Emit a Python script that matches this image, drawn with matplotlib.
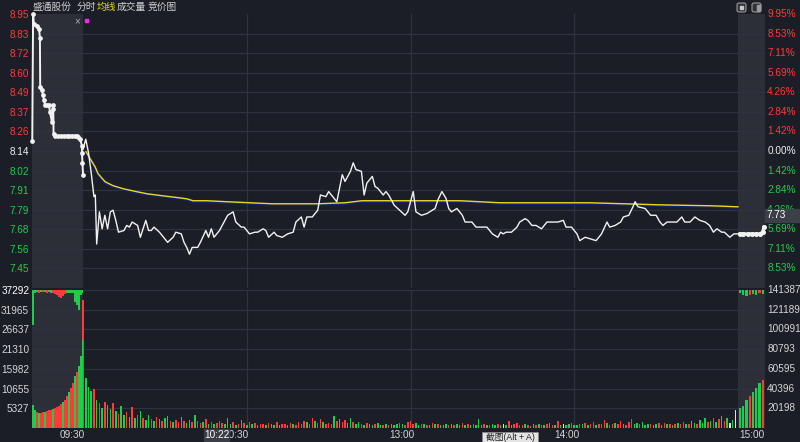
import matplotlib
matplotlib.use('Agg')
import matplotlib.pyplot as plt
import matplotlib.transforms as mtransforms
from matplotlib.patches import Rectangle, FancyBboxPatch

plt.rcParams['font.family'] = ['Liberation Sans', 'Noto Sans CJK SC', 'DejaVu Sans']

# 昨收
prev_close = 8.14

# 集合竞价 09:15-09:30 (分钟, 价格), 负值 = 开盘前
auction_pts = [(-18.6, 8.20), (-18.3, 8.95), (-18.0, 8.89), (-17.0, 8.88), (-16.1, 8.86),
               (-15.8, 8.81), (-15.7, 8.52), (-15.0, 8.50), (-14.7, 8.47), (-14.3, 8.44),
               (-13.9, 8.41), (-13.2, 8.41), (-12.5, 8.41), (-12.1, 8.37), (-11.4, 8.31),
               (-11.0, 8.41), (-10.9, 8.39), (-10.8, 8.24), (-10.3, 8.23), (-9.0, 8.23),
               (-8.0, 8.23), (-7.0, 8.23), (-6.0, 8.23), (-5.0, 8.23), (-4.0, 8.23),
               (-3.0, 8.23), (-2.2, 8.23), (-1.8, 8.22), (-1.1, 8.21), (-0.4, 8.17),
               (-0.4, 8.13), (-0.2, 8.07), (0.0, 8.00)]

# 分时 (分钟, 价格)
trade_pts = [(0, 8.15), (1, 8.21), (2, 8.13), (3, 8.01), (4, 7.87), (4.5, 7.88), (5, 7.59),
             (6, 7.78), (7, 7.68), (8, 7.76), (9, 7.68), (10, 7.78), (11, 7.79), (12, 7.73),
             (13, 7.66), (15, 7.67), (16, 7.70), (17, 7.69), (18, 7.72), (20, 7.70), (21, 7.63),
             (23, 7.73), (24, 7.67), (25, 7.67), (26, 7.69), (28, 7.66), (31, 7.60), (33, 7.63),
             (34, 7.66), (36, 7.65), (37, 7.60), (38, 7.57), (39, 7.53), (40, 7.57), (42, 7.57),
             (43, 7.60), (45, 7.67), (46, 7.63), (47, 7.68), (48, 7.63), (50, 7.67), (53, 7.76),
             (55, 7.78), (56, 7.72), (58, 7.69), (59, 7.69), (61, 7.65), (63, 7.66), (64, 7.66),
             (66, 7.68), (67, 7.67), (68, 7.63), (70, 7.66), (71, 7.64), (73, 7.63), (75, 7.65),
             (77, 7.66), (78, 7.72), (80, 7.75), (81, 7.69), (82, 7.75), (84, 7.75), (86, 7.79),
             (87, 7.88), (89, 7.87), (90, 7.90), (91, 7.88), (93, 7.84), (95, 8.00), (96, 7.96),
             (98, 8.02), (99, 8.07), (100, 8.03), (102, 8.02), (103, 7.88), (104, 7.95),
             (106, 7.99), (107, 7.93), (108, 7.92), (110, 7.88), (111, 7.90), (112, 7.88),
             (114, 7.82), (116, 7.79), (118, 7.76), (119, 7.78), (120, 7.84), (121, 7.90),
             (122, 7.78), (124, 7.76), (126, 7.77), (128, 7.79), (129, 7.80), (130, 7.85),
             (131.5, 7.90), (133, 7.86), (134, 7.80), (135, 7.78), (137, 7.80), (139, 7.76),
             (140, 7.72), (142.5, 7.72), (144, 7.69), (147, 7.69), (148, 7.69), (150, 7.65),
             (152, 7.63), (153, 7.66), (154, 7.65), (155, 7.66), (157, 7.66), (159, 7.69),
             (160, 7.72), (162, 7.74), (163, 7.73), (164.5, 7.70), (166, 7.70), (168, 7.68),
             (170, 7.72), (171, 7.72), (173, 7.72), (174, 7.72), (176, 7.73), (177, 7.69),
             (179, 7.69), (181, 7.65), (182, 7.61), (184, 7.63), (186, 7.62), (188, 7.61),
             (190, 7.65), (192, 7.72), (193, 7.69), (195, 7.70), (197, 7.72), (198, 7.75),
             (200, 7.76), (201.5, 7.81), (202.3, 7.84), (203.4, 7.81), (206, 7.80), (208, 7.76),
             (210, 7.76), (211.4, 7.72), (212.5, 7.70), (214, 7.72), (216, 7.72), (217.6, 7.72),
             (219.4, 7.75), (220.5, 7.72), (222.4, 7.72), (224.2, 7.75), (226, 7.73), (228, 7.72),
             (229.6, 7.70), (231, 7.66), (232.3, 7.68), (234, 7.66), (235, 7.66), (237, 7.63),
             (238.5, 7.65), (240, 7.65)]

# 收盘竞价
close_pts = [(240.7, 7.65), (242, 7.65), (243.5, 7.65), (245, 7.65), (246.5, 7.65),
             (248, 7.65), (249, 7.66), (249.5, 7.69)]

# 均价线
avg_pts = [(1.1, 8.131), (2.6, 8.090), (4.4, 8.042), (5.5, 8.001), (8.1, 7.953), (11, 7.930),
           (14.7, 7.912), (19.8, 7.894), (23.5, 7.882), (29.3, 7.870), (35.5, 7.858),
           (38.1, 7.852), (40.3, 7.841), (45.4, 7.841), (52.8, 7.835), (61.2, 7.829),
           (69.3, 7.823), (78.8, 7.823), (86.1, 7.823), (96, 7.829), (102.2, 7.841),
           (110.7, 7.841), (119.8, 7.841), (138.1, 7.841), (152.8, 7.829), (175.9, 7.829),
           (185.8, 7.829), (210.7, 7.817), (230.5, 7.811), (240, 7.805)]

# 成交量 (每分钟)
trade_vol = [34600, 13500, 11000, 10000, 10500, 7500, 6800, 5500, 7000, 6200,
             5200, 6800, 4500, 3800, 6000, 3500, 4200, 3000, 5800, 2600,
             3400, 4500, 2800, 2200, 3600, 2500, 1900, 3100, 2400, 1800,
             2600, 3300, 2000, 1500, 2200, 1700, 2900, 1900, 1400, 2100,
             1600, 3500, 1800, 1300, 1500, 2400, 1200, 1700, 1100, 1400,
             1900, 1300, 1000, 2600, 1200, 1500, 900, 1100, 2200, 1300,
             800, 1700, 1000, 1400, 900, 1200, 1000, 700, 1300, 1100,
             900, 1500, 800, 1000, 1200, 700, 1400, 1000, 900, 1600,
             1200, 2000, 1500, 1000, 2800, 1800, 1300, 2300, 1600, 1000,
             1400, 1200, 3200, 1900, 2500, 1500, 2200, 1300, 2800, 1700,
             1200, 1600, 1000, 900, 1300, 1100, 800, 1000, 1400, 900,
             700, 1100, 800, 1000, 900, 1200, 1300, 1000, 800, 1500,
             1800, 1100, 1400, 800, 1000, 1200, 900, 700, 1300, 1000,
             1100, 800, 900, 1200, 700, 1000, 800, 1100, 900, 1400,
             800, 1000, 700, 1200, 900, 2300, 800, 1000, 700, 900,
             1100, 800, 1000, 700, 1200, 900, 2000, 800, 1000, 1300,
             700, 900, 1100, 800, 600, 1000, 800, 1200, 900, 700,
             1000, 1300, 800, 700, 1900, 900, 1100, 800, 1000, 1300,
             900, 700, 1200, 1000, 1400, 800, 1100, 1600, 900, 1200,
             1000, 2100, 1300, 900, 1100, 1400, 1000, 1800, 1200, 900,
             1500, 2400, 1100, 1300, 1000, 1700, 900, 1200, 1000, 800,
             1100, 1300, 900, 1400, 1000, 1200, 800, 1000, 1300, 1100,
             1500, 1000, 1200, 1900, 1400, 1100, 2200, 1300, 2600, 1500,
             1900, 2800, 1600, 2400, 3200, 1800, 2600, 1400, 2100, 4900]
trade_dir = ("rgggrgrgrg" "grgrggrgrg" "rgrggrgrgr" "ggrgrrgrgg" "rgrrgrgrgr" "rrgggrgrgr"
             "grgrgrrgrg" "grgrrgrgrr" "rrgrrgrrgr" "rrgrgrrggr" "ggrgrggrgg" "rgrgggrgrr"
             "rrggrgrgrg" "rgggrgrggr" "grgrgggrgr" "ggrgwgrgrr" "rrgrggrgrg" "rgrgrgwggr"
             "ggrgrgrrgr" "rrgrrgrrgr" "rrggrgggrg" "grgrgrgrgr" "rgrggrgggr" "grgrgrgwgw")

# 竞价量
auc_vol_x = [-18.3, -17.6, -16.9, -16.1, -15.4, -14.7, -14.0, -13.2, -12.5, -11.8, -11.0,
             -10.3, -9.6, -8.8, -8.1, -7.4, -6.6, -5.9, -5.2, -4.4, -3.7, -3.0, -2.2, -1.5,
             -0.8, -0.2]
auc_vol = [6200, 4900, 4300, 4000, 4000, 4300, 4300, 4600, 4900, 4900, 5100, 5400, 5700,
           5900, 6500, 7000, 7600, 8600, 9700, 10800, 12200, 14000, 15100, 16700, 19400, 23800]
auc_dir = "ggrgrrgrrrgrrrrgrrgrrgrggg"
# 未匹配量 (自上而下)
auc_unmatched = [9400, 800, 600, 700, 600, 500, 600, 700, 600, 700, 800, 1100, 1400,
                 1900, 2200, 1600, 1100, 900, 800, 700, 900, 3200, 4100, 5400, 1300, 900]
auc_un_dir = "gggrgrgrggrrrrrrrgggggggg g"

close_vol_x = [240.7, 241.9, 243.1, 244.3, 245.5, 246.7, 247.9, 249.1]
close_vol = [5400, 5900, 7600, 8600, 9700, 10800, 12200, 13000]
close_dir = "gggrgggr"
close_unmatched = [800, 1300, 1600, 1300, 1100, 1400, 900, 1200]

price_labels = ['8.95', '8.83', '8.72', '8.60', '8.49', '8.37', '8.26', '8.14',
                '8.02', '7.91', '7.79', '7.68', '7.56', '7.45']
pct_labels = ['9.95%', '8.53%', '7.11%', '5.69%', '4.26%', '2.84%', '1.42%', '0.00%',
              '1.42%', '2.84%', '4.26%', '5.69%', '7.11%', '8.53%']
vol_left_labels = ['37292', '31965', '26637', '21310', '15982', '10655', '5327']
vol_right_labels = ['141387', '121189', '100991', '80793', '60595', '40396', '20198']
time_labels = ['09:30', '10:30', '13:00', '14:00', '15:00']
time_label_pos = [-4, 56, 117, 177.4, 245]

BG = '#1b1e26'
SHADE = '#2c2f37'
GRID = '#2e333e'
RED = '#ff3a3a'
GREEN = '#22cc4a'
TXT = '#d6d6d6'
dir_color = {'r': RED, 'g': GREEN, 'w': '#e0e0e0', ' ': GREEN}

W, H = 800, 442
def box(x0, y0, x1, y1):
    return [x0 / W, 1 - y1 / H, (x1 - x0) / W, (y1 - y0) / H]

fig = plt.figure(figsize=(8, 4.42), dpi=100)
fig.patch.set_facecolor(BG)

ax = fig.add_axes(box(32, 14, 765, 288))
axv = fig.add_axes(box(32, 290, 765, 428))

step = (8.95 - prev_close) / 7
ylo, yhi = prev_close - 7 * step, prev_close + 7 * step
price_ticks = [prev_close + (7 - i) * step for i in range(14)]
vol_top = 37292
vol_ticks = [vol_top * (7 - i) / 7 for i in range(7)]
xlo, xhi = -18.7, 249.9

for a in (ax, axv):
    a.set_facecolor(BG)
    a.set_xlim(xlo, xhi)
    for s in a.spines.values():
        s.set_visible(False)
    a.axvspan(xlo, 0, color=SHADE, zorder=0, lw=0)
    a.axvspan(240, xhi, color=SHADE, zorder=0, lw=0)
    for m in (60, 120, 180):
        a.axvline(m, color=GRID, lw=0.9, zorder=1)
    a.set_xticks([])

# 价格面板
ax.set_ylim(ylo, yhi)
for p in price_ticks[1:]:
    ax.axhline(p, color=GRID, lw=0.9, zorder=1)
ax.set_yticks(price_ticks)
ax.set_yticklabels(price_labels)
ax.tick_params(axis='y', length=0, pad=2, labelsize=7.2)
for i, lab in enumerate(ax.get_yticklabels()):
    lab.set_color(RED if i < 7 else ('#f0f0f0' if i == 7 else GREEN))

tr = mtransforms.blended_transform_factory(ax.transAxes, ax.transData)
for i, (p, lab) in enumerate(zip(price_ticks, pct_labels)):
    c = RED if i < 7 else ('#f0f0f0' if i == 7 else GREEN)
    ax.text(1.003, p, lab, transform=tr, color=c, fontsize=7.2, va='center', ha='left')

am, ap = zip(*avg_pts)
ax.plot(am, ap, color='#14206e', lw=2.0, zorder=3, solid_capstyle='round')
shift = mtransforms.offset_copy(ax.transData, fig=fig, x=0, y=0.6, units='points')
ax.plot(am, ap, color='#e8dc1a', lw=1.0, zorder=4, transform=shift)

tm, tp = zip(*trade_pts)
ax.plot(tm, tp, color='#f2f2f2', lw=1.0, zorder=5)
xm, xp = zip(*auction_pts)
ax.plot(xm, xp, color='#f2f2f2', lw=1.4, marker='o', ms=2.4, zorder=5, clip_on=False)
cm, cp = zip(*close_pts)
ax.plot(cm, cp, color='#f2f2f2', lw=2.2, marker='o', ms=2.6, zorder=5, clip_on=False)

# 成交量面板
axv.set_ylim(0, vol_top)
for v in vol_ticks:
    axv.axhline(v, color=GRID, lw=0.9, zorder=1)
axv.set_yticks(vol_ticks)
axv.set_yticklabels(vol_left_labels)
axv.tick_params(axis='y', length=0, pad=2, labelsize=7.2, labelcolor=TXT)
axv.get_yticklabels()[0].set_color('#ffffff')
trv = mtransforms.blended_transform_factory(axv.transAxes, axv.transData)
for v, lab in zip(vol_ticks, vol_right_labels):
    axv.text(1.003, v, lab, transform=trv, color=TXT, fontsize=7.2, va='center', ha='left')

axv.bar(range(len(trade_vol)), trade_vol, width=0.55,
        color=[dir_color[c] for c in trade_dir], zorder=3, lw=0)
axv.bar(auc_vol_x, auc_vol, width=0.62, color=[dir_color[c] for c in auc_dir], zorder=3, lw=0)
axv.bar(auc_vol_x, [-v for v in auc_unmatched], bottom=vol_top, width=0.62,
        color=[dir_color[c] for c in auc_un_dir[:len(auc_vol_x)]], zorder=3, lw=0)
axv.bar(close_vol_x, close_vol, width=0.8, color=[dir_color[c] for c in close_dir], zorder=3, lw=0)
axv.bar(close_vol_x, [-v for v in close_unmatched], bottom=vol_top, width=0.8,
        color=[dir_color[c] for c in "gggrggrg"], zorder=3, lw=0)

trx = mtransforms.blended_transform_factory(axv.transData, axv.transAxes)
for pos, lab in zip(time_label_pos, time_labels):
    axv.text(pos, -0.052, lab, transform=trx, color=TXT, fontsize=7.2, ha='center', va='center')

# 装饰层 (像素坐标)
deco = fig.add_axes([0, 0, 1, 1])
deco.set_xlim(0, W)
deco.set_ylim(H, 0)
deco.axis('off')
deco.patch.set_alpha(0)

deco.text(33, 7, '盛通股份', color='#d0d0d0', fontsize=7, va='center')
deco.text(77, 7, '分时', color='#d0d0d0', fontsize=7, va='center')
deco.text(97, 7, '均线', color='#e8dc1a', fontsize=7, va='center')
deco.text(117, 7, '成交量', color='#d0d0d0', fontsize=7, va='center')
deco.text(148, 7, '竞价图', color='#d0d0d0', fontsize=7, va='center')
deco.text(77.5, 21, '×', color='#b0b0b0', fontsize=7, ha='center', va='center')
deco.add_patch(Rectangle((85, 19), 2.5, 2.5, color='#ff22ff'))

for x0 in (737, 752):
    deco.add_patch(FancyBboxPatch((x0, 3), 9, 9, boxstyle='round,pad=0,rounding_size=2',
                                  fc='#30333b', ec='#9a9a9a', lw=0.8))
deco.add_patch(Rectangle((739.8, 5.8), 3.4, 3.4, color='#c8c8c8'))
deco.add_patch(Rectangle((757, 4.5), 2.6, 6, color='#9a9a9a'))

deco.add_patch(Rectangle((765, 209), 35, 13, color='#3c3f47'))
deco.text(767, 215.5, '7.73', color='#ffffff', fontsize=7.2, va='center')

deco.add_patch(Rectangle((204, 429), 25, 12, color='#3b3e46'))
deco.text(216.5, 435, '10:22', color='#ffffff', fontsize=7.2, ha='center', va='center')

deco.add_patch(Rectangle((482, 432), 56, 11, fc='#e4e4e4', ec='#888888', lw=0.6))
deco.text(510, 438, '截图(Alt + A)', color='#222222', fontsize=6.3, ha='center', va='center')

fig.savefig('out.png', dpi=100, facecolor=BG)
